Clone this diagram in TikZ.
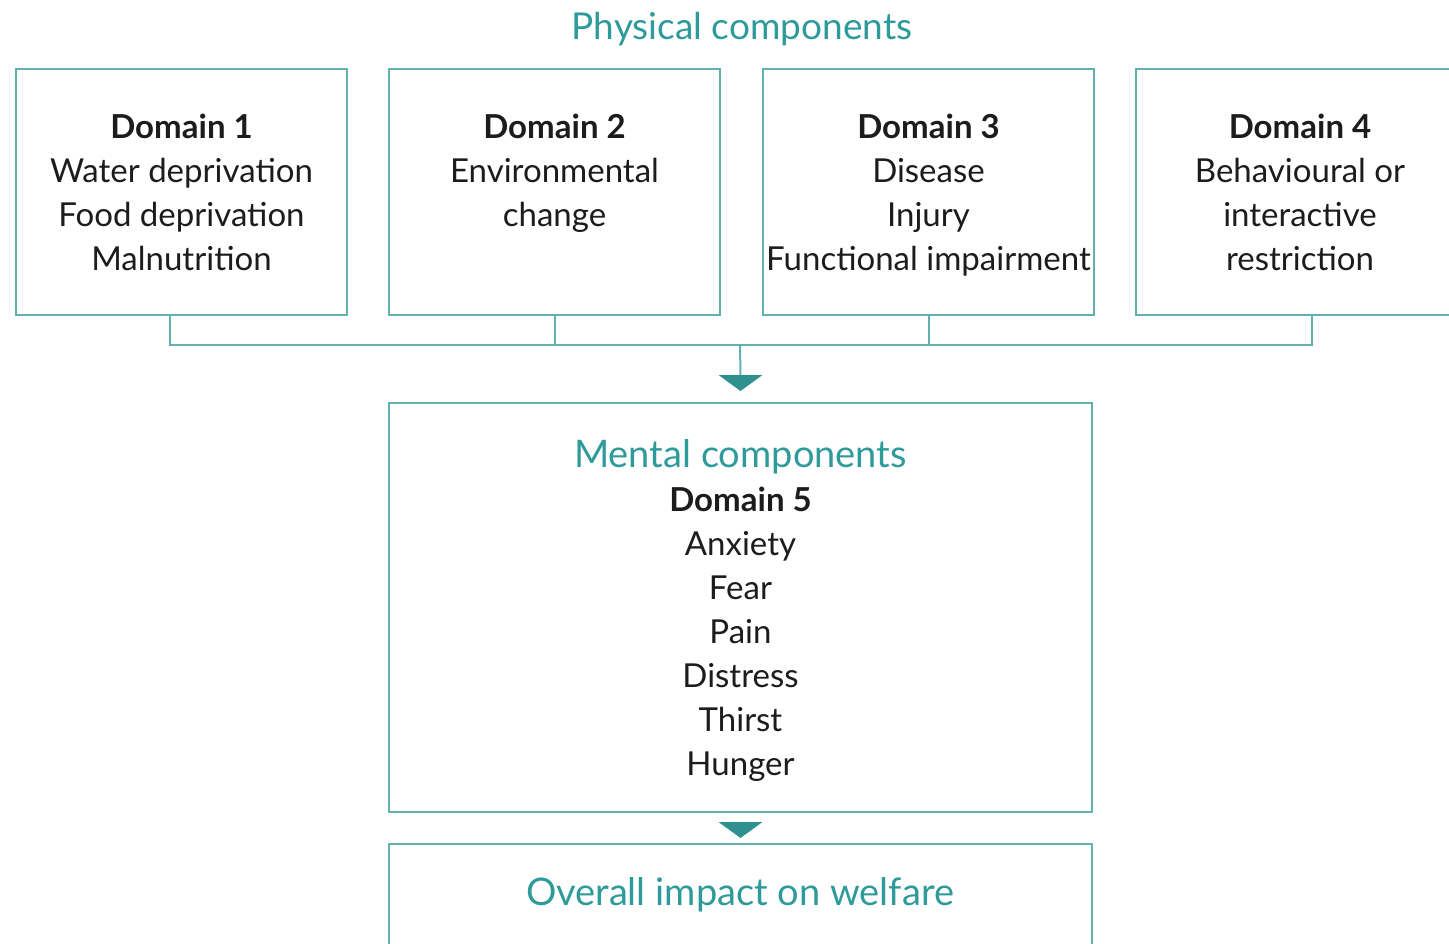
\documentclass[tikz,border=0pt]{standalone}
\usepackage{fontspec}
\setmainfont{Lato}
\usetikzlibrary{calc,arrows.meta}
\definecolor{tealline}{HTML}{62B0AF}
\definecolor{tealtext}{HTML}{2E9A9A}
\definecolor{tealarrow}{HTML}{2F9090}
\definecolor{bodytext}{HTML}{1C1C1C}
\tikzset{
  dombox/.style={draw=tealline, line width=2pt, minimum width=331pt, minimum height=246pt, inner sep=0pt, anchor=north west},
  bigbox/.style={draw=tealline, line width=2pt, minimum width=703pt, inner sep=0pt, anchor=north west},
  bodytxt/.style={text=bodytext, font=\fontsize{33}{44}\selectfont, align=center, anchor=base, inner sep=0pt},
  titletxt/.style={text=tealtext, font=\fontsize{37}{44}\selectfont, anchor=base, inner sep=0pt},
  conn/.style={draw=tealline, line width=2pt},
  tip/.style={fill=tealarrow},
}
\begin{document}
\begin{tikzpicture}[x=1pt,y=-1pt]
\useasboundingbox (0,0) rectangle (1449,943);
\clip (0,0) rectangle (1449,943);
\node[titletxt] (phys) at (742,39) {Physical components};
\node[dombox] (d1) at (15,68) {};
\node[dombox] (d2) at (388,68) {};
\node[dombox] (d3) at (762,68) {};
\node[dombox] (d4) at (1135,68) {};
% base anchor = baseline of last line
\node[bodytxt] (t1) at ($(d1.north)+(0,202)$) {\textbf{Domain 1}\\Water deprivation\\Food deprivation\\Malnutrition};
\node[bodytxt] (t2) at ($(d2.north)+(0,158)$) {\textbf{Domain 2}\\Environmental\\change};
\node[bodytxt] (t3) at ($(d3.north)+(0,202)$) {\textbf{Domain 3}\\Disease\\Injury\\Functional impairment};
\node[bodytxt] (t4) at (1300,270) {\textbf{Domain 4}\\Behavioural or\\interactive\\restriction};
\node[bigbox, minimum height=409pt] (m) at (388,402) {};
\node[titletxt, font=\fontsize{38}{44}\selectfont] (mt) at ($(m.north)+(0,65)$) {Mental components};
\node[bodytxt] (m5) at ($(m.north)+(0,373)$) {\textbf{Domain 5}\\Anxiety\\Fear\\Pain\\Distress\\Thirst\\Hunger};
\node[bigbox, minimum height=140pt] (o) at (388,843) {};
\node[titletxt, font=\fontsize{38}{44}\selectfont] (ot) at (740,905) {Overall impact on welfare};
% bus connector
\coordinate (bus) at (740,345);
\coordinate (s1) at ($(d1.south)+(-12,0)$);
\coordinate (s4) at (1312,314);
\draw[conn] (s1) -- (s1 |- bus) -- (s4 |- bus) -- (s4);
\draw[conn] (d2.south) -- (d2.south |- bus);
\draw[conn] (d3.south) -- (d3.south |- bus);
\draw[conn] (bus) -- ($(m.north)+(0,-27)$);
\fill[tip] ($(m.north)+(-22,-27)$) -- ($(m.north)+(22,-27)$) -- ($(m.north)+(0,-11)$) -- cycle;
\fill[tip] ($(m.south)+(-22,9)$) -- ($(m.south)+(22,9)$) -- ($(m.south)+(0,25)$) -- cycle;
\end{tikzpicture}
\end{document}
